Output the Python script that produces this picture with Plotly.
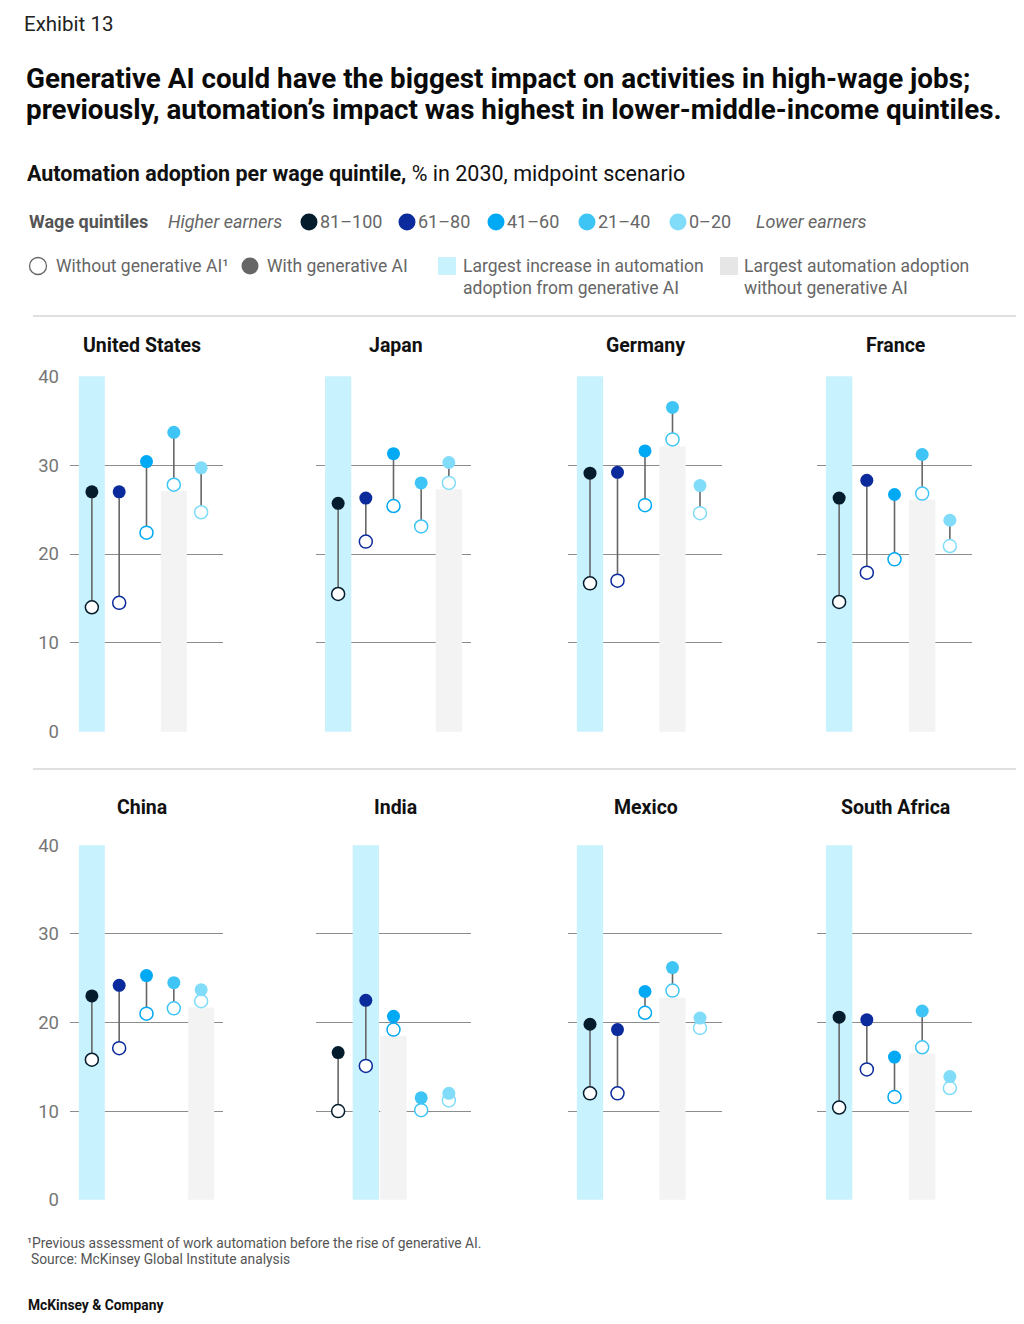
import plotly.graph_objects as go

# page is 1024x1324; body margin of 8px -> figure 1008x1308 offset by 8px
OFF = 8
W, H = 1024 - 2 * OFF, 1324 - 2 * OFF

countries = ["United States", "Japan", "Germany", "France",
             "China", "India", "Mexico", "South Africa"]
quintiles = ["81–100", "61–80", "41–60", "21–40", "0–20"]
quintile_colors = ["#051c2c", "#0b2a9b", "#00a9f4", "#3fc5f5", "#80dcf8"]

# Automation adoption, % in 2030 (order: 81-100, 61-80, 41-60, 21-40, 0-20)
us_without = [14.0, 14.5, 22.4, 27.8, 24.7]
us_with = [27.0, 27.0, 30.4, 33.7, 29.7]
japan_without = [15.5, 21.4, 25.4, 23.1, 28.0]
japan_with = [25.7, 26.3, 31.3, 28.0, 30.3]
germany_without = [16.7, 17.0, 25.5, 32.9, 24.6]
germany_with = [29.1, 29.2, 31.6, 36.5, 27.7]
france_without = [14.6, 17.9, 19.4, 26.8, 20.9]
france_with = [26.3, 28.3, 26.7, 31.2, 23.8]
china_without = [15.8, 17.1, 21.0, 21.6, 22.4]
china_with = [23.0, 24.2, 25.3, 24.5, 23.7]
india_without = [10.0, 15.1, 19.2, 10.1, 11.2]
india_with = [16.6, 22.5, 20.7, 11.5, 12.0]
mexico_without = [12.0, 12.0, 21.1, 23.6, 19.4]
mexico_with = [19.8, 19.2, 23.5, 26.2, 20.5]
safrica_without = [10.4, 14.7, 11.6, 17.2, 12.6]
safrica_with = [20.6, 20.3, 16.1, 21.3, 13.9]

without_by_country = [us_without, japan_without, germany_without, france_without,
                      china_without, india_without, mexico_without, safrica_without]
with_by_country = [us_with, japan_with, germany_with, france_with,
                   china_with, india_with, mexico_with, safrica_with]

# Highlight bands (index of quintile)
largest_increase_idx = [0, 0, 0, 0, 0, 1, 0, 0]
largest_without_idx = [3, 4, 3, 3, 4, 2, 3, 3]
largest_without_bar = [27.1, 27.3, 32.1, 26.1, 21.7, 18.5, 22.8, 16.5]
band_full = 40

y_ticks = [0, 10, 20, 30, 40]

# ---- layout geometry (page pixels) ----
col_x = [(70, 223), (316, 471), (568, 722), (817, 972)]
title_cx = [142, 395.5, 645.5, 895.5]
row_y = [(376, 732), (845, 1200)]
title_y = [345, 807]


def px(x):
    return (x - OFF) / W


def py(y):
    return 1 - (y - OFF) / H


FONT = "Roboto"
fig = go.Figure()
layout = dict(
    width=W, height=H, margin=dict(l=0, r=0, t=0, b=0, pad=0, autoexpand=False),
    paper_bgcolor="white", plot_bgcolor="white", showlegend=False,
    font=dict(family=FONT, color="#222"),
)
annotations = []
shapes = []

for k, name in enumerate(countries):
    r, c = divmod(k, 4)
    ax = "" if k == 0 else str(k + 1)
    xa, ya = "x" + ax, "y" + ax
    x0, x1 = col_x[c]
    ytop, ybot = row_y[r]
    layout["xaxis" + ax] = dict(
        domain=[px(x0), px(x1)], range=[-0.8, 4.8], showgrid=False,
        zeroline=False, showticklabels=False, ticks="", fixedrange=True, anchor=ya,
    )
    layout["yaxis" + ax] = dict(
        domain=[py(ybot), py(ytop)], range=[-0.04, 40.04], tickvals=y_ticks,
        showgrid=True, gridcolor="#8c8c8c", gridwidth=1, zeroline=False,
        showticklabels=(c == 0), ticks="", ticklabelstandoff=10,
        tickfont=dict(size=18.5, color="#767676", family=FONT),
        fixedrange=True, anchor=xa,
    )
    # highlight bands
    fig.add_trace(go.Bar(
        x=[largest_increase_idx[k]], y=[band_full], width=0.95,
        marker=dict(color="#c8f2fd", line=dict(width=0)),
        xaxis=xa, yaxis=ya, hoverinfo="skip"))
    fig.add_trace(go.Bar(
        x=[largest_without_idx[k]], y=[largest_without_bar[k]], width=0.95,
        marker=dict(color="#f3f3f3", line=dict(width=0)),
        xaxis=xa, yaxis=ya, hoverinfo="skip"))
    # stems
    sx, sy = [], []
    for i in range(5):
        sx += [i, i, None]
        sy += [without_by_country[k][i], with_by_country[k][i], None]
    fig.add_trace(go.Scatter(
        x=sx, y=sy, mode="lines", line=dict(color="#666666", width=1.6),
        xaxis=xa, yaxis=ya, hoverinfo="skip"))
    # without generative AI (hollow)
    fig.add_trace(go.Scatter(
        x=list(range(5)), y=without_by_country[k], mode="markers",
        marker=dict(size=13, color="white", symbol="circle",
                    line=dict(color=quintile_colors, width=1.5)),
        xaxis=xa, yaxis=ya, cliponaxis=False,
        text=quintiles, hovertemplate="%{text}: %{y}<extra>Without gen AI</extra>"))
    # with generative AI (filled)
    fig.add_trace(go.Scatter(
        x=list(range(5)), y=with_by_country[k], mode="markers",
        marker=dict(size=13, color=quintile_colors, symbol="circle",
                    line=dict(width=0)),
        xaxis=xa, yaxis=ya, cliponaxis=False,
        text=quintiles, hovertemplate="%{text}: %{y}<extra>With gen AI</extra>"))
    # panel title
    annotations.append(dict(
        x=px(title_cx[c]), y=py(title_y[r]), xref="paper", yref="paper",
        text="<b>%s</b>" % name, showarrow=False, xanchor="center", yanchor="middle",
        font=dict(size=19.5, color="#111", family=FONT)))

layout["barmode"] = "overlay"


def text(x, y, s, size, color="#222", xanchor="left", italic=False, family=FONT):
    if italic:
        s = "<i>%s</i>" % s
    annotations.append(dict(
        x=px(x), y=py(y), xref="paper", yref="paper", text=s, showarrow=False,
        xanchor=xanchor, yanchor="middle", align="left",
        font=dict(size=size, color=color, family=family)))


# header
text(22, 24, "Exhibit 13", 20.5, "#222")
text(24, 78, "<b>Generative AI could have the biggest impact on activities in high-wage jobs;</b>", 27.8, "#0a0a0a")
text(24, 110, "<b>previously, automation’s impact was highest in lower-middle-income quintiles.</b>", 27.8, "#0a0a0a")
text(25, 174, "<b>Automation adoption per wage quintile,</b> % in 2030, midpoint scenario", 21.5, "#111")

# legend row 1
G = "#666666"
text(27, 222, "<b>Wage quintiles</b>", 18, "#555")
text(166, 222, "Higher earners", 18, G, italic=True)
dot_x = [309, 407, 496, 587, 678]
for qx, qlab, qcol in zip(dot_x, quintiles, quintile_colors):
    shapes.append(dict(type="circle", xref="paper", yref="paper",
                       x0=px(qx - 8.5), x1=px(qx + 8.5), y0=py(222 + 8.5), y1=py(222 - 8.5),
                       fillcolor=qcol, line=dict(width=0)))
    text(qx + 9, 222, qlab, 18, G)
text(754, 222, "Lower earners", 18, G, italic=True)

# legend row 2
shapes.append(dict(type="circle", xref="paper", yref="paper",
                   x0=px(38 - 8.5), x1=px(38 + 8.5), y0=py(266 + 8.5), y1=py(266 - 8.5),
                   fillcolor="white", line=dict(color="#666", width=1.3)))
text(54, 266, "Without generative AI¹", 17.5, G)
shapes.append(dict(type="circle", xref="paper", yref="paper",
                   x0=px(250 - 8.5), x1=px(250 + 8.5), y0=py(266 + 8.5), y1=py(266 - 8.5),
                   fillcolor="#666666", line=dict(width=0)))
text(265, 266, "With generative AI", 17.5, G)
shapes.append(dict(type="rect", xref="paper", yref="paper",
                   x0=px(438), x1=px(456), y0=py(275), y1=py(257),
                   fillcolor="#c8f2fd", line=dict(width=0)))
text(461, 266, "Largest increase in automation", 17.5, G)
text(461, 288, "adoption from generative AI", 17.5, G)
shapes.append(dict(type="rect", xref="paper", yref="paper",
                   x0=px(720), x1=px(738), y0=py(275), y1=py(257),
                   fillcolor="#e6e6e6", line=dict(width=0)))
text(742, 266, "Largest automation adoption", 17.5, G)
text(742, 288, "without generative AI", 17.5, G)

# separators
for sy_ in [316, 769]:
    shapes.append(dict(type="line", xref="paper", yref="paper",
                       x0=px(33), x1=px(1016), y0=py(sy_), y1=py(sy_),
                       line=dict(color="#d6d6d6", width=1.5)))

# footnotes
text(25, 1243, "¹Previous assessment of work automation before the rise of generative AI.", 13.8, "#555")
text(29, 1259, "Source: McKinsey Global Institute analysis", 13.8, "#555")
text(26, 1305, "<b>McKinsey & Company</b>", 13.8, "#111")

layout["annotations"] = annotations
layout["shapes"] = shapes
fig.update_layout(**layout)
fig.write_html("out.html")
